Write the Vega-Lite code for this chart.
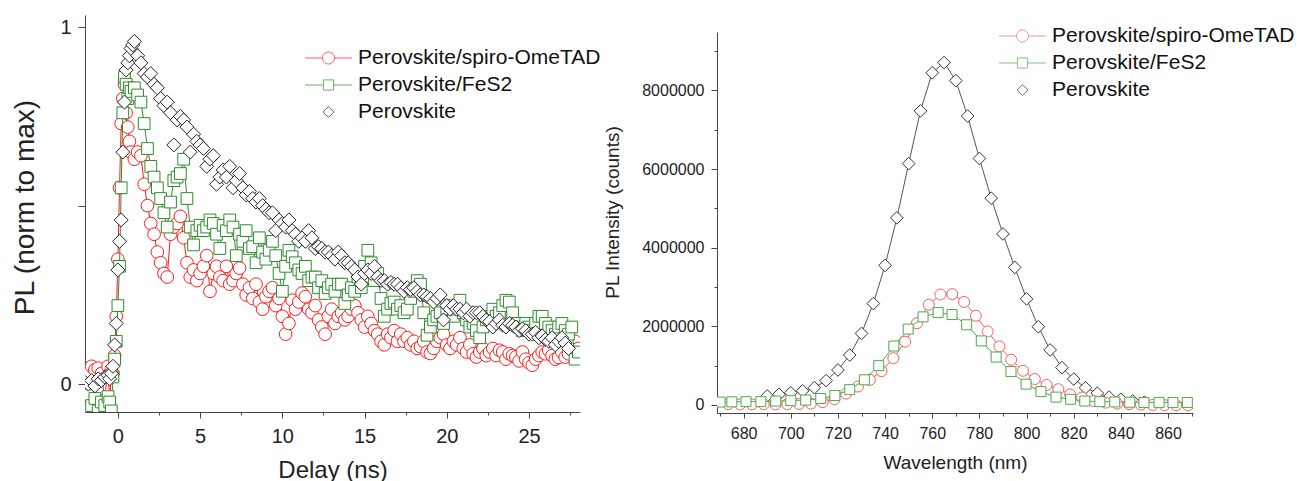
{
"$schema": "https://vega.github.io/schema/vega-lite/v6.json",
"padding": {"left": 11, "top": 15, "right": 0, "bottom": 0},
"background": "white",
"config": {
  "font": "Liberation Sans",
  "view": {"stroke": null},
  "axis": {"grid": false, "domainColor": "#444", "tickColor": "#444", "labelColor": "#222", "titleColor": "#222", "titleFontWeight": "normal", "labelFont": "Liberation Sans", "titleFont": "Liberation Sans", "domainWidth": 1, "tickWidth": 1},
  "legend": {"title": null, "labelFontSize": 21, "labelColor": "#111", "labelLimit": 0, "symbolSize": 144, "symbolStrokeWidth": 1, "labelOffset": 19, "rowPadding": 5, "padding": 0, "labelFont": "Liberation Sans"}
},
"datasets": {
"tr": [
{"s":"r","t":-2,"v":0.04},{"s":"r","t":-1.8,"v":0.035},{"s":"r","t":-1.6,"v":0.05},{"s":"r","t":-1.4,"v":0.04},{"s":"r","t":-1.2,"v":0.045},{"s":"r","t":-1,"v":0.03},{"s":"r","t":-0.8,"v":-0.045},{"s":"r","t":-0.6,"v":0.05},{"s":"r","t":-0.5,"v":-0.06},{"s":"r","t":-0.4,"v":0.04},{"s":"r","t":-0.3,"v":0.03},{"s":"r","t":-0.2,"v":0.08},{"s":"r","t":-0.1,"v":0.19},{"s":"r","t":0,"v":0.35},{"s":"r","t":0.1,"v":0.55},{"s":"r","t":0.2,"v":0.73},{"s":"r","t":0.3,"v":0.8},{"s":"r","t":0.4,"v":0.84},{"s":"r","t":0.5,"v":0.76},{"s":"r","t":0.6,"v":0.72},{"s":"r","t":0.7,"v":0.68},{"s":"r","t":0.8,"v":0.65},{"s":"r","t":1,"v":0.63},{"s":"r","t":1.2,"v":0.65},{"s":"r","t":1.4,"v":0.64},{"s":"r","t":1.6,"v":0.56},{"s":"r","t":1.8,"v":0.5},{"s":"r","t":2,"v":0.45},{"s":"r","t":2.2,"v":0.42},{"s":"r","t":2.4,"v":0.37},{"s":"r","t":2.6,"v":0.34},{"s":"r","t":2.8,"v":0.31},{"s":"r","t":3,"v":0.3},{"s":"r","t":3.2,"v":0.42},{"s":"r","t":3.4,"v":0.44},{"s":"r","t":3.6,"v":0.45},{"s":"r","t":3.8,"v":0.47},{"s":"r","t":4,"v":0.41},{"s":"r","t":4.2,"v":0.34},{"s":"r","t":4.4,"v":0.3},{"s":"r","t":4.6,"v":0.32},{"s":"r","t":4.8,"v":0.29},{"s":"r","t":5,"v":0.31},{"s":"r","t":5.2,"v":0.33},{"s":"r","t":5.4,"v":0.36},{"s":"r","t":5.6,"v":0.26},{"s":"r","t":5.8,"v":0.31},{"s":"r","t":6,"v":0.33},{"s":"r","t":6.2,"v":0.3},{"s":"r","t":6.4,"v":0.29},{"s":"r","t":6.6,"v":0.33},{"s":"r","t":6.8,"v":0.28},{"s":"r","t":7,"v":0.29},{"s":"r","t":7.2,"v":0.31},{"s":"r","t":7.4,"v":0.325},{"s":"r","t":7.6,"v":0.28},{"s":"r","t":7.8,"v":0.25},{"s":"r","t":8,"v":0.27},{"s":"r","t":8.2,"v":0.24},{"s":"r","t":8.4,"v":0.28},{"s":"r","t":8.6,"v":0.23},{"s":"r","t":8.8,"v":0.21},{"s":"r","t":9,"v":0.245},{"s":"r","t":9.2,"v":0.26},{"s":"r","t":9.4,"v":0.27},{"s":"r","t":9.6,"v":0.22},{"s":"r","t":9.8,"v":0.24},{"s":"r","t":10,"v":0.19},{"s":"r","t":10.2,"v":0.14},{"s":"r","t":10.4,"v":0.17},{"s":"r","t":10.6,"v":0.235},{"s":"r","t":10.8,"v":0.21},{"s":"r","t":11,"v":0.23},{"s":"r","t":11.2,"v":0.255},{"s":"r","t":11.4,"v":0.245},{"s":"r","t":11.6,"v":0.21},{"s":"r","t":11.8,"v":0.2},{"s":"r","t":12,"v":0.22},{"s":"r","t":12.2,"v":0.18},{"s":"r","t":12.4,"v":0.16},{"s":"r","t":12.6,"v":0.14},{"s":"r","t":12.8,"v":0.19},{"s":"r","t":13,"v":0.21},{"s":"r","t":13.2,"v":0.17},{"s":"r","t":13.4,"v":0.19},{"s":"r","t":13.6,"v":0.2},{"s":"r","t":13.8,"v":0.18},{"s":"r","t":14,"v":0.19},{"s":"r","t":14.2,"v":0.21},{"s":"r","t":14.4,"v":0.22},{"s":"r","t":14.6,"v":0.2},{"s":"r","t":14.8,"v":0.18},{"s":"r","t":15,"v":0.16},{"s":"r","t":15.2,"v":0.19},{"s":"r","t":15.4,"v":0.17},{"s":"r","t":15.6,"v":0.15},{"s":"r","t":15.8,"v":0.14},{"s":"r","t":16,"v":0.12},{"s":"r","t":16.2,"v":0.11},{"s":"r","t":16.4,"v":0.14},{"s":"r","t":16.6,"v":0.13},{"s":"r","t":16.8,"v":0.15},{"s":"r","t":17,"v":0.12},{"s":"r","t":17.2,"v":0.14},{"s":"r","t":17.4,"v":0.12},{"s":"r","t":17.6,"v":0.13},{"s":"r","t":17.8,"v":0.11},{"s":"r","t":18,"v":0.12},{"s":"r","t":18.2,"v":0.1},{"s":"r","t":18.4,"v":0.105},{"s":"r","t":18.6,"v":0.12},{"s":"r","t":18.8,"v":0.09},{"s":"r","t":19,"v":0.086},{"s":"r","t":19.2,"v":0.1},{"s":"r","t":19.4,"v":0.12},{"s":"r","t":19.6,"v":0.13},{"s":"r","t":19.8,"v":0.14},{"s":"r","t":20,"v":0.11},{"s":"r","t":20.2,"v":0.1},{"s":"r","t":20.4,"v":0.12},{"s":"r","t":20.6,"v":0.11},{"s":"r","t":20.8,"v":0.13},{"s":"r","t":21,"v":0.1},{"s":"r","t":21.2,"v":0.09},{"s":"r","t":21.4,"v":0.11},{"s":"r","t":21.6,"v":0.085},{"s":"r","t":21.8,"v":0.076},{"s":"r","t":22,"v":0.09},{"s":"r","t":22.2,"v":0.1},{"s":"r","t":22.4,"v":0.08},{"s":"r","t":22.6,"v":0.09},{"s":"r","t":22.8,"v":0.1},{"s":"r","t":23,"v":0.08},{"s":"r","t":23.2,"v":0.095},{"s":"r","t":23.4,"v":0.09},{"s":"r","t":23.6,"v":0.07},{"s":"r","t":23.8,"v":0.085},{"s":"r","t":24,"v":0.08},{"s":"r","t":24.2,"v":0.076},{"s":"r","t":24.4,"v":0.065},{"s":"r","t":24.6,"v":0.09},{"s":"r","t":24.8,"v":0.07},{"s":"r","t":25,"v":0.06},{"s":"r","t":25.2,"v":0.053},{"s":"r","t":25.4,"v":0.07},{"s":"r","t":25.6,"v":0.08},{"s":"r","t":25.8,"v":0.09},{"s":"r","t":26,"v":0.085},{"s":"r","t":26.2,"v":0.095},{"s":"r","t":26.4,"v":0.08},{"s":"r","t":26.6,"v":0.07},{"s":"r","t":26.8,"v":0.075},{"s":"r","t":27,"v":0.09},{"s":"r","t":27.2,"v":0.076},{"s":"r","t":27.4,"v":0.085},{"s":"r","t":27.6,"v":0.1},{"s":"r","t":27.8,"v":0.12},{"s":"r","t":28,"v":0.1},
{"s":"g","t":-2,"v":-0.07},{"s":"g","t":-1.8,"v":-0.03},{"s":"g","t":-1.6,"v":-0.06},{"s":"g","t":-1.4,"v":-0.04},{"s":"g","t":-1.2,"v":-0.075},{"s":"g","t":-1,"v":-0.05},{"s":"g","t":-0.8,"v":-0.06},{"s":"g","t":-0.6,"v":-0.035},{"s":"g","t":-0.5,"v":-0.05},{"s":"g","t":-0.4,"v":-0.075},{"s":"g","t":-0.3,"v":0.02},{"s":"g","t":-0.2,"v":0.07},{"s":"g","t":-0.1,"v":0.12},{"s":"g","t":0,"v":0.22},{"s":"g","t":0.1,"v":0.33},{"s":"g","t":0.2,"v":0.55},{"s":"g","t":0.3,"v":0.76},{"s":"g","t":0.4,"v":0.86},{"s":"g","t":0.5,"v":0.84},{"s":"g","t":0.6,"v":0.8},{"s":"g","t":0.7,"v":0.83},{"s":"g","t":0.8,"v":0.82},{"s":"g","t":1,"v":0.83},{"s":"g","t":1.2,"v":0.81},{"s":"g","t":1.4,"v":0.79},{"s":"g","t":1.6,"v":0.73},{"s":"g","t":1.8,"v":0.66},{"s":"g","t":2,"v":0.61},{"s":"g","t":2.2,"v":0.58},{"s":"g","t":2.4,"v":0.55},{"s":"g","t":2.6,"v":0.52},{"s":"g","t":2.8,"v":0.48},{"s":"g","t":3,"v":0.44},{"s":"g","t":3.2,"v":0.51},{"s":"g","t":3.4,"v":0.57},{"s":"g","t":3.6,"v":0.58},{"s":"g","t":3.8,"v":0.59},{"s":"g","t":4,"v":0.63},{"s":"g","t":4.2,"v":0.52},{"s":"g","t":4.4,"v":0.44},{"s":"g","t":4.6,"v":0.39},{"s":"g","t":4.8,"v":0.43},{"s":"g","t":5,"v":0.445},{"s":"g","t":5.2,"v":0.43},{"s":"g","t":5.4,"v":0.44},{"s":"g","t":5.6,"v":0.46},{"s":"g","t":5.8,"v":0.45},{"s":"g","t":6,"v":0.42},{"s":"g","t":6.2,"v":0.38},{"s":"g","t":6.4,"v":0.445},{"s":"g","t":6.6,"v":0.43},{"s":"g","t":6.8,"v":0.46},{"s":"g","t":7,"v":0.44},{"s":"g","t":7.2,"v":0.36},{"s":"g","t":7.4,"v":0.42},{"s":"g","t":7.6,"v":0.4},{"s":"g","t":7.8,"v":0.43},{"s":"g","t":8,"v":0.38},{"s":"g","t":8.2,"v":0.385},{"s":"g","t":8.4,"v":0.34},{"s":"g","t":8.6,"v":0.41},{"s":"g","t":8.8,"v":0.37},{"s":"g","t":9,"v":0.35},{"s":"g","t":9.2,"v":0.375},{"s":"g","t":9.4,"v":0.4},{"s":"g","t":9.6,"v":0.36},{"s":"g","t":9.8,"v":0.31},{"s":"g","t":10,"v":0.26},{"s":"g","t":10.2,"v":0.33},{"s":"g","t":10.4,"v":0.375},{"s":"g","t":10.6,"v":0.357},{"s":"g","t":10.8,"v":0.34},{"s":"g","t":11,"v":0.32},{"s":"g","t":11.2,"v":0.31},{"s":"g","t":11.4,"v":0.33},{"s":"g","t":11.6,"v":0.29},{"s":"g","t":11.8,"v":0.3},{"s":"g","t":12,"v":0.3},{"s":"g","t":12.2,"v":0.27},{"s":"g","t":12.4,"v":0.29},{"s":"g","t":12.6,"v":0.254},{"s":"g","t":12.8,"v":0.27},{"s":"g","t":13,"v":0.28},{"s":"g","t":13.2,"v":0.26},{"s":"g","t":13.4,"v":0.28},{"s":"g","t":13.6,"v":0.28},{"s":"g","t":13.8,"v":0.226},{"s":"g","t":14,"v":0.25},{"s":"g","t":14.2,"v":0.27},{"s":"g","t":14.4,"v":0.26},{"s":"g","t":14.6,"v":0.3},{"s":"g","t":14.8,"v":0.27},{"s":"g","t":15,"v":0.33},{"s":"g","t":15.2,"v":0.375},{"s":"g","t":15.4,"v":0.34},{"s":"g","t":15.6,"v":0.29},{"s":"g","t":15.8,"v":0.31},{"s":"g","t":16,"v":0.24},{"s":"g","t":16.2,"v":0.19},{"s":"g","t":16.4,"v":0.21},{"s":"g","t":16.6,"v":0.226},{"s":"g","t":16.8,"v":0.23},{"s":"g","t":17,"v":0.21},{"s":"g","t":17.2,"v":0.22},{"s":"g","t":17.4,"v":0.2},{"s":"g","t":17.6,"v":0.21},{"s":"g","t":17.8,"v":0.24},{"s":"g","t":18,"v":0.26},{"s":"g","t":18.2,"v":0.29},{"s":"g","t":18.4,"v":0.28},{"s":"g","t":18.6,"v":0.2},{"s":"g","t":18.8,"v":0.137},{"s":"g","t":19,"v":0.16},{"s":"g","t":19.2,"v":0.18},{"s":"g","t":19.4,"v":0.19},{"s":"g","t":19.6,"v":0.2},{"s":"g","t":19.8,"v":0.17},{"s":"g","t":20,"v":0.21},{"s":"g","t":20.2,"v":0.22},{"s":"g","t":20.4,"v":0.19},{"s":"g","t":20.6,"v":0.21},{"s":"g","t":20.8,"v":0.235},{"s":"g","t":21,"v":0.2},{"s":"g","t":21.2,"v":0.18},{"s":"g","t":21.4,"v":0.16},{"s":"g","t":21.6,"v":0.17},{"s":"g","t":21.8,"v":0.15},{"s":"g","t":22,"v":0.13},{"s":"g","t":22.2,"v":0.16},{"s":"g","t":22.4,"v":0.18},{"s":"g","t":22.6,"v":0.19},{"s":"g","t":22.8,"v":0.21},{"s":"g","t":23,"v":0.19},{"s":"g","t":23.2,"v":0.2},{"s":"g","t":23.4,"v":0.22},{"s":"g","t":23.6,"v":0.235},{"s":"g","t":23.8,"v":0.23},{"s":"g","t":24,"v":0.2},{"s":"g","t":24.2,"v":0.17},{"s":"g","t":24.4,"v":0.16},{"s":"g","t":24.6,"v":0.15},{"s":"g","t":24.8,"v":0.17},{"s":"g","t":25,"v":0.16},{"s":"g","t":25.2,"v":0.15},{"s":"g","t":25.4,"v":0.17},{"s":"g","t":25.6,"v":0.19},{"s":"g","t":25.8,"v":0.19},{"s":"g","t":26,"v":0.17},{"s":"g","t":26.2,"v":0.16},{"s":"g","t":26.4,"v":0.15},{"s":"g","t":26.6,"v":0.14},{"s":"g","t":26.8,"v":0.16},{"s":"g","t":27,"v":0.17},{"s":"g","t":27.2,"v":0.15},{"s":"g","t":27.4,"v":0.14},{"s":"g","t":27.6,"v":0.16},{"s":"g","t":27.8,"v":0.07},{"s":"g","t":28,"v":0.09},
{"s":"k","t":-2,"v":0.005},{"s":"k","t":-1.8,"v":0},{"s":"k","t":-1.6,"v":0.01},{"s":"k","t":-1.4,"v":-0.005},{"s":"k","t":-1.2,"v":0.015},{"s":"k","t":-1,"v":0.01},{"s":"k","t":-0.8,"v":0.02},{"s":"k","t":-0.6,"v":0.025},{"s":"k","t":-0.5,"v":0.015},{"s":"k","t":-0.4,"v":0.03},{"s":"k","t":-0.3,"v":0.05},{"s":"k","t":-0.2,"v":0.11},{"s":"k","t":-0.1,"v":0.17},{"s":"k","t":0,"v":0.32},{"s":"k","t":0.1,"v":0.4},{"s":"k","t":0.2,"v":0.46},{"s":"k","t":0.3,"v":0.65},{"s":"k","t":0.4,"v":0.79},{"s":"k","t":0.5,"v":0.88},{"s":"k","t":0.6,"v":0.9},{"s":"k","t":0.7,"v":0.92},{"s":"k","t":0.8,"v":0.94},{"s":"k","t":0.9,"v":0.95},{"s":"k","t":1,"v":0.96},{"s":"k","t":1.2,"v":0.92},{"s":"k","t":1.4,"v":0.9},{"s":"k","t":1.6,"v":0.87},{"s":"k","t":1.8,"v":0.86},{"s":"k","t":2,"v":0.87},{"s":"k","t":2.2,"v":0.84},{"s":"k","t":2.4,"v":0.83},{"s":"k","t":2.6,"v":0.8},{"s":"k","t":2.8,"v":0.78},{"s":"k","t":3,"v":0.79},{"s":"k","t":3.2,"v":0.76},{"s":"k","t":3.4,"v":0.67},{"s":"k","t":3.6,"v":0.74},{"s":"k","t":3.8,"v":0.75},{"s":"k","t":4,"v":0.74},{"s":"k","t":4.2,"v":0.72},{"s":"k","t":4.4,"v":0.65},{"s":"k","t":4.6,"v":0.7},{"s":"k","t":4.8,"v":0.68},{"s":"k","t":5,"v":0.67},{"s":"k","t":5.2,"v":0.66},{"s":"k","t":5.4,"v":0.61},{"s":"k","t":5.6,"v":0.63},{"s":"k","t":5.8,"v":0.64},{"s":"k","t":6,"v":0.56},{"s":"k","t":6.2,"v":0.58},{"s":"k","t":6.4,"v":0.6},{"s":"k","t":6.6,"v":0.58},{"s":"k","t":6.8,"v":0.61},{"s":"k","t":7,"v":0.55},{"s":"k","t":7.2,"v":0.57},{"s":"k","t":7.4,"v":0.59},{"s":"k","t":7.6,"v":0.55},{"s":"k","t":7.8,"v":0.53},{"s":"k","t":8,"v":0.54},{"s":"k","t":8.2,"v":0.52},{"s":"k","t":8.4,"v":0.51},{"s":"k","t":8.6,"v":0.52},{"s":"k","t":8.8,"v":0.5},{"s":"k","t":9,"v":0.49},{"s":"k","t":9.2,"v":0.48},{"s":"k","t":9.4,"v":0.48},{"s":"k","t":9.6,"v":0.43},{"s":"k","t":9.8,"v":0.46},{"s":"k","t":10,"v":0.45},{"s":"k","t":10.2,"v":0.44},{"s":"k","t":10.4,"v":0.46},{"s":"k","t":10.6,"v":0.43},{"s":"k","t":10.8,"v":0.42},{"s":"k","t":11,"v":0.4},{"s":"k","t":11.2,"v":0.41},{"s":"k","t":11.4,"v":0.4},{"s":"k","t":11.6,"v":0.43},{"s":"k","t":11.8,"v":0.41},{"s":"k","t":12,"v":0.38},{"s":"k","t":12.2,"v":0.385},{"s":"k","t":12.4,"v":0.38},{"s":"k","t":12.6,"v":0.37},{"s":"k","t":12.8,"v":0.37},{"s":"k","t":13,"v":0.36},{"s":"k","t":13.2,"v":0.35},{"s":"k","t":13.4,"v":0.37},{"s":"k","t":13.6,"v":0.36},{"s":"k","t":13.8,"v":0.34},{"s":"k","t":14,"v":0.34},{"s":"k","t":14.2,"v":0.33},{"s":"k","t":14.4,"v":0.32},{"s":"k","t":14.6,"v":0.3},{"s":"k","t":14.8,"v":0.28},{"s":"k","t":15,"v":0.31},{"s":"k","t":15.2,"v":0.32},{"s":"k","t":15.4,"v":0.31},{"s":"k","t":15.6,"v":0.33},{"s":"k","t":15.8,"v":0.3},{"s":"k","t":16,"v":0.29},{"s":"k","t":16.2,"v":0.29},{"s":"k","t":16.4,"v":0.28},{"s":"k","t":16.6,"v":0.285},{"s":"k","t":16.8,"v":0.28},{"s":"k","t":17,"v":0.28},{"s":"k","t":17.2,"v":0.27},{"s":"k","t":17.4,"v":0.26},{"s":"k","t":17.6,"v":0.27},{"s":"k","t":17.8,"v":0.265},{"s":"k","t":18,"v":0.27},{"s":"k","t":18.2,"v":0.26},{"s":"k","t":18.4,"v":0.25},{"s":"k","t":18.6,"v":0.25},{"s":"k","t":18.8,"v":0.245},{"s":"k","t":19,"v":0.24},{"s":"k","t":19.2,"v":0.23},{"s":"k","t":19.4,"v":0.24},{"s":"k","t":19.6,"v":0.25},{"s":"k","t":19.8,"v":0.18},{"s":"k","t":20,"v":0.22},{"s":"k","t":20.2,"v":0.21},{"s":"k","t":20.4,"v":0.22},{"s":"k","t":20.6,"v":0.21},{"s":"k","t":20.8,"v":0.21},{"s":"k","t":21,"v":0.2},{"s":"k","t":21.2,"v":0.21},{"s":"k","t":21.4,"v":0.19},{"s":"k","t":21.6,"v":0.2},{"s":"k","t":21.8,"v":0.2},{"s":"k","t":22,"v":0.2},{"s":"k","t":22.2,"v":0.19},{"s":"k","t":22.4,"v":0.18},{"s":"k","t":22.6,"v":0.175},{"s":"k","t":22.8,"v":0.16},{"s":"k","t":23,"v":0.17},{"s":"k","t":23.2,"v":0.18},{"s":"k","t":23.4,"v":0.165},{"s":"k","t":23.6,"v":0.16},{"s":"k","t":23.8,"v":0.17},{"s":"k","t":24,"v":0.165},{"s":"k","t":24.2,"v":0.16},{"s":"k","t":24.4,"v":0.15},{"s":"k","t":24.6,"v":0.155},{"s":"k","t":24.8,"v":0.15},{"s":"k","t":25,"v":0.14},{"s":"k","t":25.2,"v":0.14},{"s":"k","t":25.4,"v":0.145},{"s":"k","t":25.6,"v":0.13},{"s":"k","t":25.8,"v":0.135},{"s":"k","t":26,"v":0.125},{"s":"k","t":26.2,"v":0.12},{"s":"k","t":26.4,"v":0.13},{"s":"k","t":26.6,"v":0.11},{"s":"k","t":26.8,"v":0.12},{"s":"k","t":27,"v":0.13},{"s":"k","t":27.2,"v":0.115},{"s":"k","t":27.4,"v":0.1}
],
"pl": [
{"s":"k","w":690,"c":230000},{"s":"k","w":695,"c":270000},{"s":"k","w":700,"c":310000},{"s":"k","w":705,"c":360000},{"s":"k","w":710,"c":440000},{"s":"k","w":715,"c":620000},{"s":"k","w":720,"c":890000},{"s":"k","w":725,"c":1270000},{"s":"k","w":730,"c":1820000},{"s":"k","w":735,"c":2580000},{"s":"k","w":740,"c":3550000},{"s":"k","w":745,"c":4760000},{"s":"k","w":750,"c":6140000},{"s":"k","w":755,"c":7480000},{"s":"k","w":760,"c":8450000},{"s":"k","w":765,"c":8710000},{"s":"k","w":770,"c":8250000},{"s":"k","w":775,"c":7350000},{"s":"k","w":780,"c":6270000},{"s":"k","w":785,"c":5260000},{"s":"k","w":790,"c":4350000},{"s":"k","w":795,"c":3500000},{"s":"k","w":800,"c":2700000},{"s":"k","w":805,"c":1990000},{"s":"k","w":810,"c":1400000},{"s":"k","w":815,"c":950000},{"s":"k","w":820,"c":660000},{"s":"k","w":825,"c":440000},{"s":"k","w":830,"c":300000},{"s":"k","w":835,"c":200000},{"s":"k","w":840,"c":145000},{"s":"k","w":845,"c":100000},{"s":"k","w":850,"c":70000},
{"s":"r","w":673.5,"c":20000},{"s":"r","w":678.5,"c":15000},{"s":"r","w":683.5,"c":15000},{"s":"r","w":688.5,"c":20000},{"s":"r","w":693.5,"c":15000},{"s":"r","w":698.5,"c":20000},{"s":"r","w":703.5,"c":25000},{"s":"r","w":708.5,"c":35000},{"s":"r","w":713.5,"c":70000},{"s":"r","w":718.5,"c":145000},{"s":"r","w":723.5,"c":290000},{"s":"r","w":728.5,"c":470000},{"s":"r","w":733.5,"c":640000},{"s":"r","w":738.5,"c":860000},{"s":"r","w":743.5,"c":1190000},{"s":"r","w":748.5,"c":1610000},{"s":"r","w":753.5,"c":2080000},{"s":"r","w":758.5,"c":2550000},{"s":"r","w":763.5,"c":2810000},{"s":"r","w":768.5,"c":2820000},{"s":"r","w":773.5,"c":2620000},{"s":"r","w":778.5,"c":2270000},{"s":"r","w":783.5,"c":1870000},{"s":"r","w":788.5,"c":1490000},{"s":"r","w":793.5,"c":1150000},{"s":"r","w":798.5,"c":870000},{"s":"r","w":803.5,"c":660000},{"s":"r","w":808.5,"c":510000},{"s":"r","w":813.5,"c":400000},{"s":"r","w":818.5,"c":270000},{"s":"r","w":823.5,"c":190000},{"s":"r","w":828.5,"c":100000},{"s":"r","w":833.5,"c":60000},{"s":"r","w":838.5,"c":35000},{"s":"r","w":843.5,"c":20000},{"s":"r","w":848.5,"c":10000},{"s":"r","w":853.5,"c":0},{"s":"r","w":858.5,"c":-5000},{"s":"r","w":863.5,"c":-5000},{"s":"r","w":868.5,"c":-10000},
{"s":"g","w":670,"c":75000},{"s":"g","w":675,"c":80000},{"s":"g","w":681,"c":85000},{"s":"g","w":687.3,"c":85000},{"s":"g","w":693.6,"c":100000},{"s":"g","w":700,"c":110000},{"s":"g","w":706.3,"c":125000},{"s":"g","w":712.7,"c":165000},{"s":"g","w":718.7,"c":240000},{"s":"g","w":725,"c":390000},{"s":"g","w":731.2,"c":640000},{"s":"g","w":737.3,"c":1000000},{"s":"g","w":743.7,"c":1500000},{"s":"g","w":749.8,"c":1930000},{"s":"g","w":756.1,"c":2240000},{"s":"g","w":762.5,"c":2350000},{"s":"g","w":768.4,"c":2300000},{"s":"g","w":774.6,"c":2040000},{"s":"g","w":780.8,"c":1630000},{"s":"g","w":787.1,"c":1220000},{"s":"g","w":793.4,"c":850000},{"s":"g","w":799.8,"c":530000},{"s":"g","w":806.1,"c":340000},{"s":"g","w":812.5,"c":200000},{"s":"g","w":818.7,"c":145000},{"s":"g","w":824.7,"c":100000},{"s":"g","w":831.1,"c":85000},{"s":"g","w":837.4,"c":77000},{"s":"g","w":843.8,"c":70000},{"s":"g","w":849.8,"c":65000},{"s":"g","w":856.2,"c":65000},{"s":"g","w":862.1,"c":65000},{"s":"g","w":868.2,"c":65000}
]
},
"spacing": 2,
"resolve": {"scale": {"color": "independent", "shape": "independent"}, "legend": {"color": "independent", "shape": "independent"}},
"hconcat": [
{
  "width": 495, "height": 397,
  "data": {"name": "tr"},
  "resolve": {"axis": {"x": "independent", "y": "independent"}},
  "layer": [
    {"transform": [{"filter": "datum.s == 'r'"}],
     "mark": {"type": "line", "color": "#ff1a1a", "strokeWidth": 1, "clip": true},
     "encoding": {
       "x": {"field": "t", "type": "quantitative", "scale": {"domain": [-2, 28.1], "nice": false, "zero": false},
             "axis": {"orient": "bottom", "values": [0, 5, 10, 15, 20, 25], "title": "Delay (ns)", "titleFontSize": 24, "labelFontSize": 20, "tickSize": 6, "labelPadding": 8, "titlePadding": 12}},
       "y": {"field": "v", "type": "quantitative", "scale": {"domain": [-0.078, 1.034], "nice": false, "zero": false},
             "axis": {"orient": "left", "values": [0, 0.5, 1], "labelExpr": "datum.value == 0 ? '0' : datum.value == 1 ? '1' : ''", "title": "PL (norm to max)", "titleFontSize": 28, "labelFontSize": 20, "tickSize": 7, "labelPadding": 7, "titlePadding": 20, "titleY": 192}}
     }},
    {"transform": [{"filter": "datum.s == 'r'"}],
     "mark": {"type": "point", "shape": "circle", "size": 161, "filled": true, "fill": "white", "stroke": "#ff1a1a", "strokeWidth": 1, "opacity": 1, "clip": true},
     "encoding": {
       "x": {"field": "t", "type": "quantitative", "axis": {"orient": "bottom", "values": [2.5, 7.5, 12.5, 17.5, 22.5, 27.5], "labels": false, "domain": false, "tickSize": 3, "title": null}},
       "y": {"field": "v", "type": "quantitative", "axis": null}
     }},
    {"transform": [{"filter": "datum.s == 'g'"}],
     "mark": {"type": "line", "color": "#2e8b2e", "strokeWidth": 1, "clip": true},
     "encoding": {"x": {"field": "t", "type": "quantitative", "axis": null}, "y": {"field": "v", "type": "quantitative", "axis": null}}},
    {"transform": [{"filter": "datum.s == 'g'"}],
     "mark": {"type": "point", "shape": "square", "size": 137, "filled": true, "fill": "white", "stroke": "#2e8b2e", "strokeWidth": 1, "opacity": 1, "clip": true},
     "encoding": {"x": {"field": "t", "type": "quantitative", "axis": null}, "y": {"field": "v", "type": "quantitative", "axis": null}}},
    {"transform": [{"filter": "datum.s == 'k'"}],
     "mark": {"type": "point", "shape": "diamond", "size": 196, "filled": true, "fill": "white", "stroke": "#222222", "strokeWidth": 1, "opacity": 1, "clip": true},
     "encoding": {"x": {"field": "t", "type": "quantitative", "axis": null}, "y": {"field": "v", "type": "quantitative", "axis": null}}},
    {"transform": [{"filter": "false"}],
     "mark": {"type": "point", "filled": false, "strokeWidth": 1},
     "encoding": {
       "x": {"field": "t", "type": "quantitative", "axis": null},
       "y": {"field": "v", "type": "quantitative", "axis": null},
       "color": {"field": "s", "type": "nominal", "scale": {"domain": ["r", "g", "k"], "range": ["#ff1a1a", "#2e8b2e", "#222222"]},
                 "legend": {"orient": "none", "legendX": 233, "legendY": 32.5, "labelExpr": "datum.label == 'r' ? 'Perovskite/spiro-OmeTAD' : datum.label == 'g' ? 'Perovskite/FeS2' : 'Perovskite'"}},
       "shape": {"field": "s", "type": "nominal", "scale": {"domain": ["r", "g", "k"], "range": ["M-3.9,0H-1M1,0H3.9M1,0A1,1,0,1,1,-1,0A1,1,0,1,1,1,0", "M-3.9,0H-0.85M0.85,0H3.9M-0.85,-0.85H0.85V0.85H-0.85Z", "M0,-0.9L0.9,0L0,0.9L-0.9,0Z"]},
                 "legend": {"orient": "none", "legendX": 233, "legendY": 32.5, "labelExpr": "datum.label == 'r' ? 'Perovskite/spiro-OmeTAD' : datum.label == 'g' ? 'Perovskite/FeS2' : 'Perovskite'"}}
     }}
  ]
},
{
  "bounds": "flush",
  "spacing": 16,
  "vconcat": [
    {"width": 476, "height": 1, "data": {"values": []}, "mark": "point"},
    {
      "width": 476, "height": 381,
      "data": {"name": "pl"},
      "resolve": {"axis": {"x": "independent", "y": "independent"}},
      "layer": [
        {"transform": [{"filter": "datum.s == 'k'"}],
         "mark": {"type": "line", "color": "#555555", "strokeWidth": 1, "clip": true},
         "encoding": {
           "x": {"field": "w", "type": "quantitative", "scale": {"domain": [668.7, 870.6], "nice": false, "zero": false},
                 "axis": {"orient": "bottom", "values": [680, 700, 720, 740, 760, 780, 800, 820, 840, 860], "title": "Wavelength (nm)", "titleFontSize": 19, "labelFontSize": 16, "tickSize": 5, "labelPadding": 7, "titlePadding": 12}},
           "y": {"field": "c", "type": "quantitative", "scale": {"domain": [-204000, 9487000], "nice": false, "zero": false},
                 "axis": {"orient": "left", "values": [0, 2000000, 4000000, 6000000, 8000000], "format": "d", "title": "PL Intensity (counts)", "titleFontSize": 19, "labelFontSize": 16, "tickSize": 6, "labelPadding": 7, "titlePadding": 19, "titleY": 180}}
         }},
        {"transform": [{"filter": "datum.s == 'k'"}],
         "mark": {"type": "point", "shape": "diamond", "size": 161, "filled": true, "fill": "white", "stroke": "#333333", "strokeWidth": 1, "opacity": 1, "clip": true},
         "encoding": {
           "x": {"field": "w", "type": "quantitative", "axis": {"orient": "bottom", "values": [670, 690, 710, 730, 750, 770, 790, 810, 830, 850, 870], "labels": false, "domain": false, "tickSize": 3, "title": null}},
           "y": {"field": "c", "type": "quantitative", "axis": {"orient": "left", "values": [1000000, 3000000, 5000000, 7000000, 9000000], "labels": false, "domain": false, "tickSize": 3, "title": null}}
         }},
        {"transform": [{"filter": "datum.s == 'r'"}],
         "mark": {"type": "line", "color": "#ff5c5c", "strokeWidth": 1, "clip": true},
         "encoding": {"x": {"field": "w", "type": "quantitative", "axis": null}, "y": {"field": "c", "type": "quantitative", "axis": null}}},
        {"transform": [{"filter": "datum.s == 'r'"}],
         "mark": {"type": "point", "shape": "circle", "size": 121, "filled": true, "fill": "white", "stroke": "#ff5c5c", "strokeWidth": 1, "opacity": 1, "clip": true},
         "encoding": {"x": {"field": "w", "type": "quantitative", "axis": null}, "y": {"field": "c", "type": "quantitative", "axis": null}}},
        {"transform": [{"filter": "datum.s == 'g'"}],
         "mark": {"type": "line", "color": "#4ea84e", "strokeWidth": 1, "clip": true},
         "encoding": {"x": {"field": "w", "type": "quantitative", "axis": null}, "y": {"field": "c", "type": "quantitative", "axis": null}}},
        {"transform": [{"filter": "datum.s == 'g'"}],
         "mark": {"type": "point", "shape": "square", "size": 100, "filled": true, "fill": "white", "stroke": "#4ea84e", "strokeWidth": 1, "opacity": 1, "clip": true},
         "encoding": {"x": {"field": "w", "type": "quantitative", "axis": null}, "y": {"field": "c", "type": "quantitative", "axis": null}}},
        {"transform": [{"filter": "false"}],
         "mark": {"type": "point", "filled": false, "strokeWidth": 1},
         "encoding": {
           "x": {"field": "w", "type": "quantitative", "axis": null},
           "y": {"field": "c", "type": "quantitative", "axis": null},
           "color": {"field": "s", "type": "nominal", "scale": {"domain": ["r", "g", "k"], "range": ["#ff5c5c", "#4ea84e", "#333333"]},
                     "legend": {"orient": "none", "legendX": 295, "legendY": 10.5, "labelExpr": "datum.label == 'r' ? 'Perovskite/spiro-OmeTAD' : datum.label == 'g' ? 'Perovskite/FeS2' : 'Perovskite'"}},
           "shape": {"field": "s", "type": "nominal", "scale": {"domain": ["r", "g", "k"], "range": ["M-3.9,0H-1M1,0H3.9M1,0A1,1,0,1,1,-1,0A1,1,0,1,1,1,0", "M-3.9,0H-0.85M0.85,0H3.9M-0.85,-0.85H0.85V0.85H-0.85Z", "M0,-0.9L0.9,0L0,0.9L-0.9,0Z"]},
                     "legend": {"orient": "none", "legendX": 295, "legendY": 10.5, "labelExpr": "datum.label == 'r' ? 'Perovskite/spiro-OmeTAD' : datum.label == 'g' ? 'Perovskite/FeS2' : 'Perovskite'"}}
         }}
      ]
    }
  ]
}
]
}
